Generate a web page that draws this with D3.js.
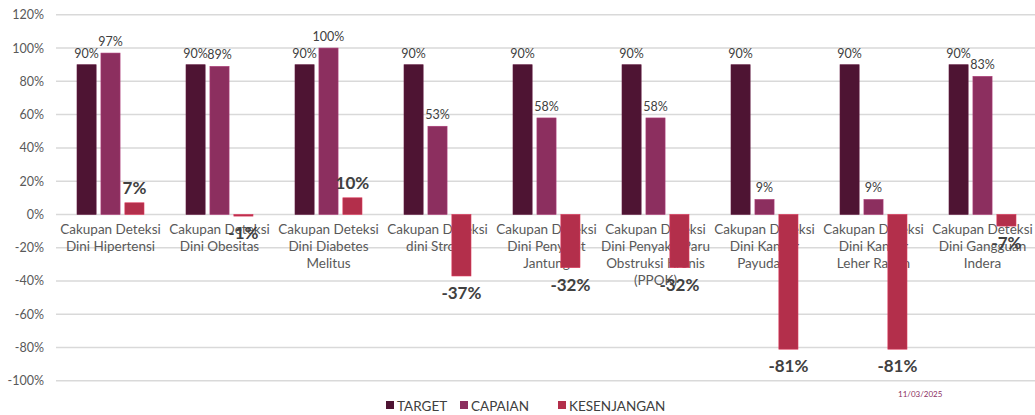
<!DOCTYPE html>
<html>
<head>
<meta charset="utf-8">
<script src="https://cdn.jsdelivr.net/npm/d3@7"></script>
<style>
  body { margin: 0; background: #fff; }
  text { font-family: Lato, "Open Sans", sans-serif; }
</style>
</head>
<body>
<div id="chart"></div>
<script>
'use strict'

var categories = [
  'Cakupan Deteksi\nDini Hipertensi',
  'Cakupan Deteksi\nDini Obesitas',
  'Cakupan Deteksi\nDini Diabetes\nMelitus',
  'Cakupan Deteksi\ndini Stroke',
  'Cakupan Deteksi\nDini Penyakit\nJantung',
  'Cakupan Deteksi\nDini Penyakit Paru\nObstruksi Kronis\n(PPOK)',
  'Cakupan Deteksi\nDini Kanker\nPayudara',
  'Cakupan Deteksi\nDini Kanker\nLeher Rahim',
  'Cakupan Deteksi\nDini Gangguan\nIndera'
]
var target = [90, 90, 90, 90, 90, 90, 90, 90, 90]
var capaian = [97, 89, 100, 53, 58, 58, 9, 9, 83]
var kesenjangan = [7, -1, 10, -37, -32, -32, -81, -81, -7]
var seriesNames = ['TARGET', 'CAPAIAN', 'KESENJANGAN']
var yTicks = [-100, -80, -60, -40, -20, 0, 20, 40, 60, 80, 100, 120]
var dateLabel = '11/03/2025'

var width = 1035
var height = 415
var colors = ['#4e1433', '#8c2f5f', '#b32f4b']

var svg = d3.select('#chart').append('svg')
  .attr('width', width)
  .attr('height', height)

var x = d3.scaleBand().domain(d3.range(categories.length)).range([56, 1037]).paddingInner(0).paddingOuter(0)
var y = d3.scaleLinear().domain([-100, 120]).range([380.8, 14.8])
var xs = d3.scaleBand().domain([0, 1, 2]).range([21, 88]).paddingInner(0.2)

// gridlines
svg.append('g')
  .selectAll('line')
  .data(yTicks)
  .join('line')
  .attr('x1', 56).attr('x2', width)
  .attr('y1', d => y(d)).attr('y2', d => y(d))
  .attr('stroke', '#d9d9d9')
  .attr('stroke-width', 1.5)

// y axis labels
svg.append('g')
  .selectAll('text')
  .data(yTicks)
  .join('text')
  .attr('x', 44)
  .attr('y', d => y(d) + 4.5)
  .attr('text-anchor', 'end')
  .attr('fill', '#595959')
  .attr('font-size', 12.5)
  .text(d => d + '%')

var series = [target, capaian, kesenjangan]

// category labels (drawn before bars so bars overlap them like the original)
var cat = svg.append('g')
  .selectAll('text')
  .data(categories)
  .join('text')
  .attr('text-anchor', 'middle')
  .attr('fill', '#595959')
  .attr('font-size', 13.5)
cat.each(function (d, i) {
  var t = d3.select(this)
  d.split('\n').forEach(function (line, j) {
    t.append('tspan')
      .attr('x', x(i) + x.bandwidth() / 2)
      .attr('y', 234 + j * 17)
      .text(line)
  })
})

series.forEach(function (vals, s) {
  var g = svg.append('g')
  g.selectAll('rect')
    .data(vals)
    .join('rect')
    .attr('x', (d, i) => x(i) + xs(s))
    .attr('width', xs.bandwidth())
    .attr('y', d => y(Math.max(0, d)))
    .attr('height', d => Math.abs(y(d) - y(0)))
    .attr('fill', colors[s])
    .attr('stroke', d3.color(colors[s]).brighter(0.6))
    .attr('stroke-width', 0.6)
})

// value labels
series.forEach(function (vals, s) {
  var bold = s === 2
  svg.append('g')
    .selectAll('text')
    .data(vals)
    .join('text')
    .attr('x', (d, i) => x(i) + xs(s) + xs.bandwidth() / 2)
    .attr('y', d => d >= 0 ? y(d) - (bold ? 9 : 7) : y(d) + 23)
    .attr('text-anchor', 'middle')
    .attr('fill', '#404040')
    .attr('font-size', bold ? 17 : 12.5)
    .attr('font-weight', bold ? 'bold' : 'normal')
    .text(d => d + '%')
})

// legend
var legendX = [386, 460, 558]
var legend = svg.append('g')
  .selectAll('g')
  .data(seriesNames)
  .join('g')
  .attr('transform', (d, i) => 'translate(' + legendX[i] + ',405)')
legend.append('rect')
  .attr('x', 0).attr('y', -4)
  .attr('width', 8).attr('height', 8)
  .attr('fill', (d, i) => colors[i])
legend.append('text')
  .attr('x', 11).attr('y', 5.5)
  .attr('fill', '#404040')
  .attr('font-size', 13.5)
  .text(d => d)

svg.append('text')
  .attr('x', 898).attr('y', 397)
  .attr('fill', '#8c2f5f')
  .attr('font-size', 8)
  .text(dateLabel)
</script>
</body>
</html>
